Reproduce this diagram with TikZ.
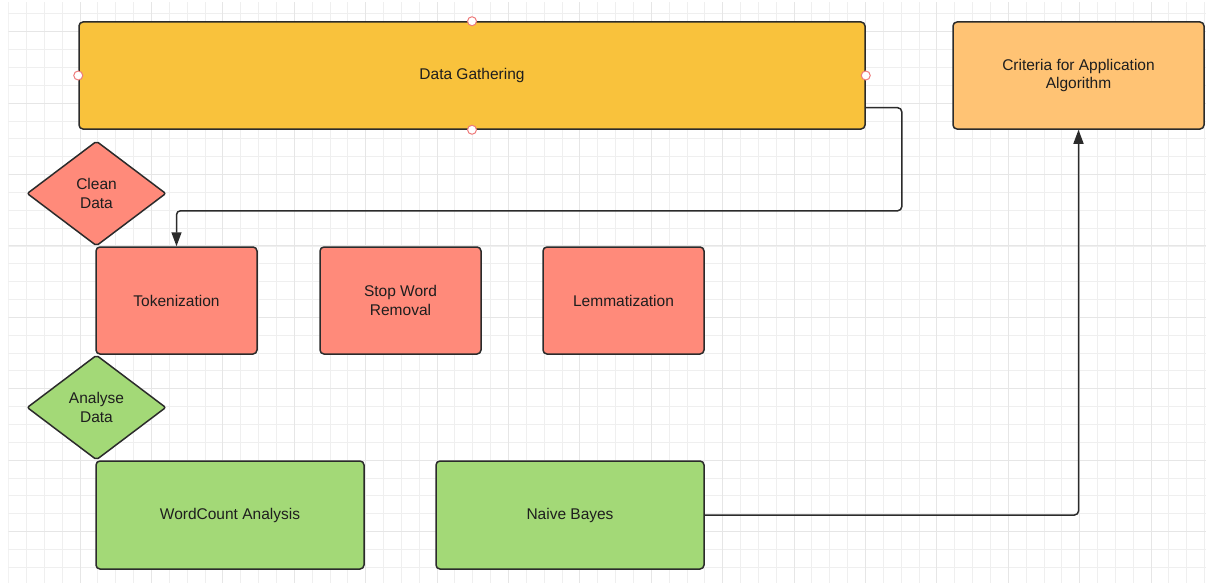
\documentclass[tikz,border=0pt]{standalone}
\usepackage{fontspec}
\setmainfont{Liberation Sans}
\usetikzlibrary{shapes.geometric,arrows.meta,calc}

\definecolor{gridminor}{HTML}{EFEFEF}
\definecolor{gridmajor}{HTML}{E6E6E6}
\definecolor{edge}{HTML}{2B2B2B}
\definecolor{txt}{HTML}{1E1E1E}
\definecolor{gather}{HTML}{F9C23C}
\definecolor{criteria}{HTML}{FFC374}
\definecolor{salmon}{HTML}{FF8A7A}
\definecolor{leaf}{HTML}{A3D977}
\definecolor{handle}{HTML}{EE7B7B}

\tikzset{
  box/.style={draw=edge, line width=1.5pt, rounded corners=4pt, inner sep=2pt,
    align=center, text=txt, font=\fontsize{15.5}{18.6}\selectfont},
  wide/.style={box, minimum width=786pt, minimum height=107pt},
  cell/.style={box, minimum width=161pt, minimum height=107pt},
  longcell/.style={box, minimum width=268pt, minimum height=108pt},
  decision/.style={draw=edge, line width=1.5pt, shape=diamond, aspect=1.324,
    minimum width=139pt, minimum height=105pt, inner sep=0pt, rounded corners=2pt,
    align=center, text=txt, font=\fontsize{15.5}{18.6}\selectfont},
  conn/.style={draw=edge, line width=1.5pt, rounded corners=4pt,
    -{Triangle[length=14pt,width=10pt]}},
  grab/.style={circle, draw=handle, fill=white, line width=1pt, minimum size=9pt, inner sep=0pt},
}

\begin{document}
\begin{tikzpicture}[x=1pt, y=-1pt]
  \useasboundingbox (0,0) rectangle (1206,583);
  \fill[white] (0,0) rectangle (1206,583);

  % background grid
  \begin{scope}
    \clip (8.6,3) rectangle (1206,583);
    \foreach \k [evaluate=\k as \xx using 8.6+\k*17.85] in {0,...,67}
      \draw[gridminor, line width=0.8pt] (\xx,0) -- (\xx,583);
    \foreach \k [evaluate=\k as \yy using -4+\k*17.85] in {0,...,33}
      \draw[gridminor, line width=0.8pt] (0,\yy) -- (1206,\yy);
    \foreach \m [evaluate=\m as \xx using 8.6+\m*71.4] in {0,...,16}
      \draw[gridmajor, line width=0.9pt] (\xx,0) -- (\xx,583);
    \foreach \m [evaluate=\m as \yy using 31.7+\m*71.4] in {0,...,8}
      \draw[gridmajor, line width=0.9pt] (0,\yy) -- (1206,\yy);
  \end{scope}

  % process boxes
  \node[wide, fill=gather] (dg) at (472,75.5) {Data Gathering};
  \node[box, fill=criteria, minimum width=251pt, minimum height=107pt] (crit) at (1078.5,75.5)
    {Criteria for Application\\Algorithm};

  \node[decision, fill=salmon] (clean) at (96.5,193.5) {Clean\\Data};
  \node[cell, fill=salmon] (tok) at (176.5,300.5) {Tokenization};
  \node[cell, fill=salmon] (stop) at (400.5,300.5) {Stop Word\\Removal};
  \node[cell, fill=salmon] (lem) at (623.5,300.5) {Lemmatization};

  \node[decision, fill=leaf] (analyse) at (96.5,407.5) {Analyse\\Data};
  \node[longcell, fill=leaf] (wc) at (230,515) {WordCount Analysis};
  \node[longcell, fill=leaf] (nb) at (570,515) {Naive Bayes};

  % connectors
  \draw[conn] ([yshift=22pt]dg.south east) -| ($(dg.south east)+(36,81)$) -| (tok.north);
  \draw[conn] (nb.east) -| (crit.south);

  % selection handles on the gathering box
  \node[grab] (h1) at (dg.west) {};
  \node[grab] (h2) at (dg.east) {};
  \node[grab] (h3) at (dg.north) {};
  \node[grab] (h4) at (dg.south) {};
\end{tikzpicture}
\end{document}
